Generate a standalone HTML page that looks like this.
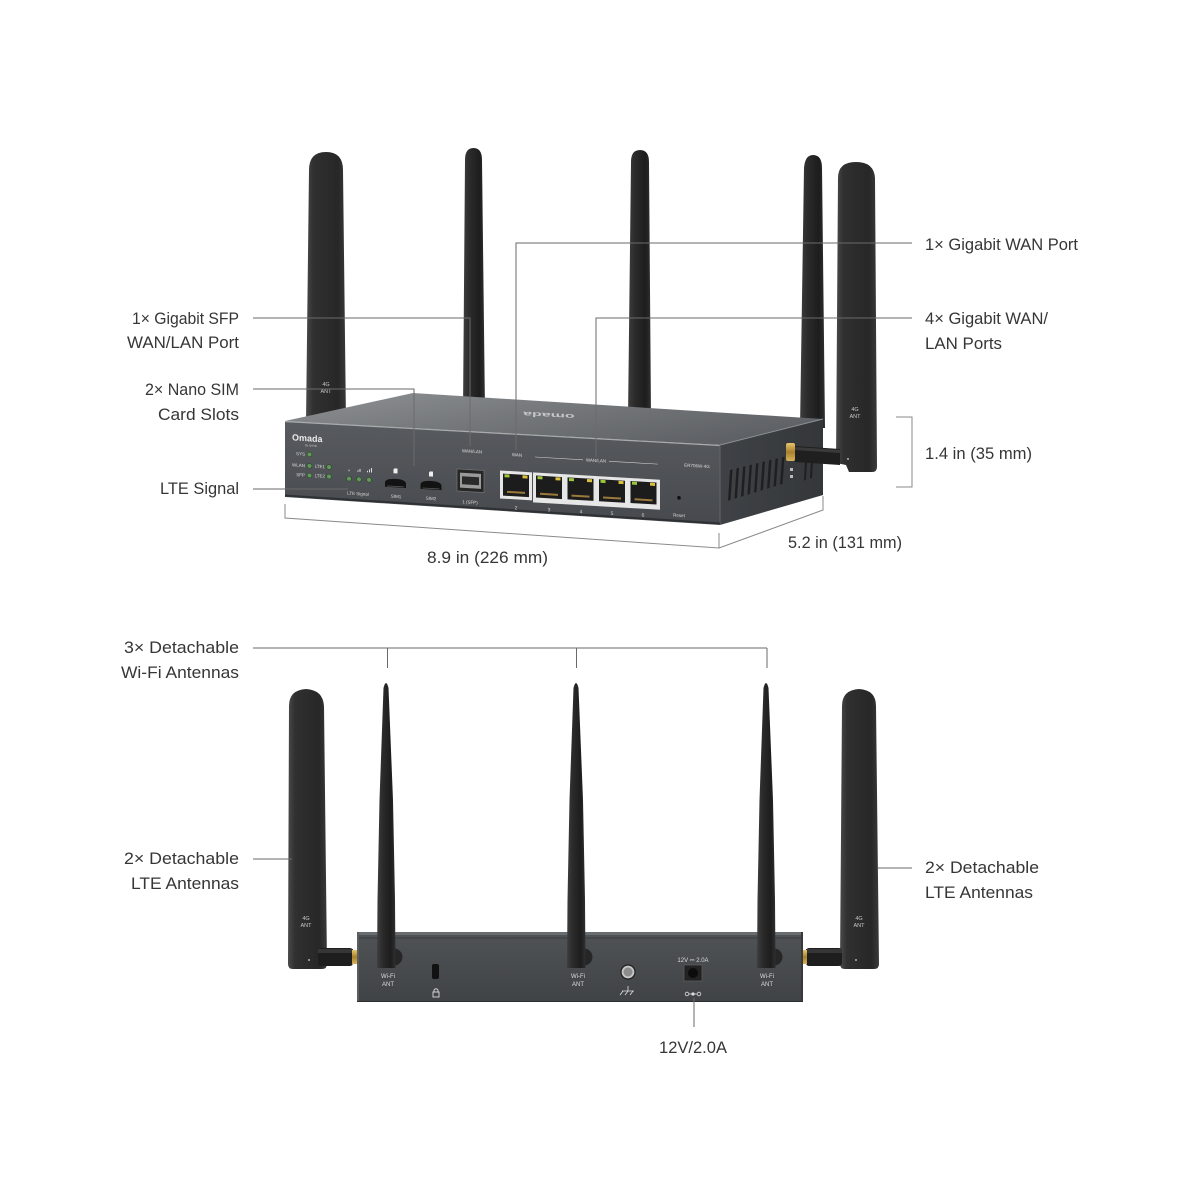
<!DOCTYPE html>
<html><head><meta charset="utf-8"><style>
html,body{margin:0;padding:0;background:#fff;}
svg{display:block}
text{font-family:"Liberation Sans",sans-serif;}
</style></head><body>
<svg width="1200" height="1200" viewBox="0 0 1200 1200" xmlns="http://www.w3.org/2000/svg">
<defs>
<linearGradient id="antG" x1="0" y1="0" x2="1" y2="0">
<stop offset="0" stop-color="#3e3e3e"/><stop offset="0.3" stop-color="#2b2b2b"/><stop offset="0.75" stop-color="#1d1d1d"/><stop offset="1" stop-color="#303030"/>
</linearGradient>
<linearGradient id="padG" x1="0" y1="0" x2="1" y2="0">
<stop offset="0" stop-color="#4a4a4a"/><stop offset="0.18" stop-color="#303030"/><stop offset="0.8" stop-color="#272727"/><stop offset="1" stop-color="#3a3a3a"/>
</linearGradient>
<linearGradient id="topG" x1="0" y1="0" x2="1" y2="0.6">
<stop offset="0" stop-color="#8f9295"/><stop offset="0.5" stop-color="#75787b"/><stop offset="1" stop-color="#5e6165"/>
</linearGradient>
<linearGradient id="frontG" x1="0" y1="0" x2="0" y2="1">
<stop offset="0" stop-color="#585b5f"/><stop offset="1" stop-color="#46494d"/>
</linearGradient>
<linearGradient id="sideG" x1="0" y1="0" x2="1" y2="0">
<stop offset="0" stop-color="#3f4246"/><stop offset="1" stop-color="#34373a"/>
</linearGradient>
<linearGradient id="rearG" x1="0" y1="0" x2="0" y2="1">
<stop offset="0" stop-color="#505356"/><stop offset="1" stop-color="#404346"/>
</linearGradient>
<linearGradient id="gold" x1="0" y1="0" x2="0" y2="1">
<stop offset="0" stop-color="#e8c66a"/><stop offset="0.5" stop-color="#a8802e"/><stop offset="1" stop-color="#d9b258"/>
</linearGradient>
</defs>

<!-- ================= TOP ROUTER ================= -->
<!-- back antennas -->
<path d="M309 170 Q309 152 326 152 Q343 152 343 170 L346 422 L306 422 Z" fill="url(#padG)"/>
<text x="326" y="386" font-size="5.5" fill="#c8c8c8" text-anchor="middle">4G</text>
<text x="326" y="393" font-size="5.5" fill="#c8c8c8" text-anchor="middle">ANT</text>
<path d="M463 412 L465 160 Q465 148 473.5 148 Q482 148 482 160 L485 412 Z" fill="url(#antG)"/>
<path d="M628 418 L631 162 Q631 150 640 150 Q649 150 649 162 L651 418 Z" fill="url(#antG)"/>
<path d="M800 428 L804 168 Q805 155 813 155 Q822 155 822 168 L825 428 Z" fill="url(#antG)"/>

<!-- body -->
<polygon points="285,421 413,393 823,419 720,445" fill="url(#topG)"/>
<text x="0" y="0" font-size="16" font-weight="bold" fill="#c4c6c8" text-anchor="middle" transform="translate(549,413) rotate(183) scale(1,0.42)">omada</text>
<polygon points="720,445 823,419 823,495 720,525" fill="url(#sideG)"/>
<polygon points="285,421 720,445 720,525 285,497" fill="url(#frontG)"/>
<line x1="285" y1="421.5" x2="720" y2="445.5" stroke="#a9acaf" stroke-width="1.2"/>
<line x1="720" y1="445" x2="823" y2="419" stroke="#8d9093" stroke-width="1"/>
<line x1="720" y1="445" x2="720" y2="525" stroke="#62656a" stroke-width="1"/>
<line x1="285" y1="495.5" x2="720" y2="523.5" stroke="#2e3134" stroke-width="2"/>

<!-- side vents -->
<g fill="#1d1f21">
<polygon points="730,470 732.5,469.4 730.5,500 728,500.6"/>
<polygon points="736.5,468.4 739,467.8 737,498 734.5,498.6"/>
<polygon points="743,466.8 745.5,466.2 743.5,496 741,496.6"/>
<polygon points="749.5,465.2 752,464.6 750,494 747.5,494.6"/>
<polygon points="756,463.6 758.5,463 756.5,492 754,492.6"/>
<polygon points="762.5,462 765,461.4 763,490 760.5,490.6"/>
<polygon points="769,460.4 771.5,459.8 769.5,488 767,488.6"/>
<polygon points="775.5,458.8 778,458.2 776,486 773.5,486.6"/>
<polygon points="782,457.2 784.5,456.6 782.5,484 780,484.6"/>
<polygon points="805,462 807,461.5 806,480 804,480.5"/>
<polygon points="811,460.5 813,460 812,478 810,478.5"/>
</g>
<rect x="790" y="468" width="3" height="3" fill="#bbb"/>
<rect x="790" y="475" width="3" height="3" fill="#bbb"/>

<!-- right LTE antenna + connector -->
<path d="M838 178 Q838 162 856 162 Q874 162 875 178 L877 467 Q877 472 872 472 L849 472 L846 465 L836 463 Z" fill="url(#padG)"/>
<text x="855" y="411" font-size="5.5" fill="#c8c8c8" text-anchor="middle">4G</text>
<text x="855" y="418" font-size="5.5" fill="#c8c8c8" text-anchor="middle">ANT</text>
<circle cx="848" cy="459" r="0.9" fill="#ddd"/>
<polygon points="795,446 840,449 840,465 795,462" fill="#1f1f1f"/>
<polygon points="795,447 840,450 840,453 795,450" fill="#3a3a3a"/>
<rect x="786" y="443" width="9" height="18" rx="2" fill="url(#gold)"/>

<!-- front face details -->
<g transform="matrix(1,0.058,0,1,285,421)">
<text x="7" y="19" font-size="9" font-weight="bold" fill="#eaeaea">Omada</text>
<text x="20" y="24" font-size="3" fill="#ccc">by tp-link</text>
<g font-size="4.5" fill="#dcdcdc" text-anchor="end">
<text x="20" y="33.5">SYS</text>
<text x="20" y="45">WLAN</text>
<text x="20" y="54.5">SFP</text>
<text x="40" y="45">LTE1</text>
<text x="40" y="54.5">LTE2</text>
</g>
<g fill="#5f9a57" stroke="#2d4a2a" stroke-width="0.6">
<circle cx="24.5" cy="32" r="2.4"/><circle cx="24.5" cy="43.5" r="2.4"/><circle cx="24.5" cy="53" r="2.4"/>
<circle cx="44" cy="43.5" r="2.4"/><circle cx="44" cy="53" r="2.4"/>
<circle cx="64" cy="54" r="2.4"/><circle cx="74" cy="54" r="2.4"/><circle cx="84" cy="54" r="2.4"/>
</g>
<g fill="#ddd">
<rect x="63.5" y="45" width="1" height="1.5"/>
<rect x="72.5" y="45" width="1" height="1.5"/><rect x="74.5" y="43.5" width="1" height="3"/>
<rect x="82" y="45" width="1" height="1.5"/><rect x="84" y="43.5" width="1" height="3"/><rect x="86" y="42" width="1" height="4.5"/>
</g>
<text x="73" y="70" font-size="4.5" fill="#dcdcdc" text-anchor="middle">LTE Signal</text>
<!-- SIM slots -->
<path d="M100 60 L100 56 Q100 51.5 110.5 51.5 Q121 51.5 121 56 L121 60 Z" fill="#121212"/>
<path d="M102 59 L119 59" stroke="#555" stroke-width="0.8"/>
<path d="M135.5 60 L135.5 56 Q135.5 51.5 146 51.5 Q156.5 51.5 156.5 56 L156.5 60 Z" fill="#121212"/>
<path d="M137.5 59 L154.5 59" stroke="#555" stroke-width="0.8"/>
<path d="M109.5 41 L112.5 41 L112.5 46 L108.5 46 L108.5 42 Z" fill="#eee"/>
<path d="M145 42 L148 42 L148 47 L144 47 L144 43 Z" fill="#eee"/>
<text x="111" y="70.5" font-size="4.5" fill="#dcdcdc" text-anchor="middle">SIM1</text>
<text x="146" y="70.5" font-size="4.5" fill="#dcdcdc" text-anchor="middle">SIM2</text>
<!-- SFP -->
<rect x="172" y="38" width="27" height="22" fill="#262626" stroke="#6f6f6f" stroke-width="0.8"/>
<rect x="175" y="41.5" width="21" height="15" fill="#9a9a9a"/>
<rect x="177" y="45" width="17" height="8" fill="#2a2a2a"/>
<text x="185" y="72" font-size="4.5" fill="#dcdcdc" text-anchor="middle">1 (SFP)</text>
<text x="187" y="21" font-size="4.5" fill="#dcdcdc" text-anchor="middle">WAN/LAN</text>
<text x="232" y="22" font-size="4.5" fill="#dcdcdc" text-anchor="middle">WAN</text>
<!-- port 2 -->
<rect x="215" y="37" width="32" height="28" fill="#e6e6e6"/>
<rect x="218" y="40" width="26" height="22" fill="#1c1c1c"/>
<rect x="219.5" y="40.5" width="5" height="3" fill="#9bc63a"/>
<rect x="237.5" y="40.5" width="5" height="3" fill="#d9c23a"/>
<rect x="222" y="57" width="18" height="2" fill="#9a7a3c"/>
<!-- ports 3-6 -->
<rect x="248" y="37" width="127" height="30" fill="#e6e6e6"/>
<g>
<rect x="251" y="40" width="26" height="22" fill="#1c1c1c"/>
<rect x="282.5" y="40" width="26" height="22" fill="#1c1c1c"/>
<rect x="314" y="40" width="26" height="22" fill="#1c1c1c"/>
<rect x="345.5" y="40" width="26" height="22" fill="#1c1c1c"/>
</g>
<g fill="#9bc63a">
<rect x="252.5" y="40.5" width="5" height="3"/><rect x="284" y="40.5" width="5" height="3"/><rect x="315.5" y="40.5" width="5" height="3"/><rect x="347" y="40.5" width="5" height="3"/>
</g>
<g fill="#d9c23a">
<rect x="270.5" y="40.5" width="5" height="3"/><rect x="302" y="40.5" width="5" height="3"/><rect x="333.5" y="40.5" width="5" height="3"/><rect x="365" y="40.5" width="5" height="3"/>
</g>
<g fill="#9a7a3c">
<rect x="255" y="57" width="18" height="2"/><rect x="286.5" y="57" width="18" height="2"/><rect x="318" y="57" width="18" height="2"/><rect x="349.5" y="57" width="18" height="2"/>
</g>
<g fill="#e6e6e6">
<rect x="277.5" y="56" width="4.5" height="8"/><rect x="309" y="56" width="4.5" height="8"/><rect x="340.5" y="56" width="4.5" height="8"/>
</g>
<g font-size="5" fill="#d0d0d0" text-anchor="middle">
<text x="231" y="75">2</text><text x="264" y="75">3</text><text x="296" y="75">4</text><text x="327" y="75">5</text><text x="358" y="75">6</text>
</g>
<text x="311" y="23" font-size="4.5" fill="#dcdcdc" text-anchor="middle">WAN/LAN</text>
<line x1="250" y1="21.5" x2="298" y2="21.5" stroke="#cfcfcf" stroke-width="0.6"/>
<line x1="324" y1="21.5" x2="373" y2="21.5" stroke="#cfcfcf" stroke-width="0.6"/>
<text x="412" y="22.5" font-size="4.5" fill="#dcdcdc" text-anchor="middle">ER706W-4G</text>
<circle cx="394" cy="54" r="1.8" fill="#111"/>
<text x="394" y="73" font-size="4.5" fill="#dcdcdc" text-anchor="middle">Reset</text>
</g>

<!-- leader lines top -->
<g stroke="#6a6a6a" stroke-width="1" fill="none">
<polyline points="253,318 470,318 470,446"/>
<polyline points="253,389 414,389 414,466"/>
<line x1="253" y1="489" x2="348" y2="489"/>
<polyline points="912,243 516,243 516,450"/>
<polyline points="912,318 596,318 596,457"/>
</g>
<!-- dimension lines -->
<g stroke="#8a8a8a" stroke-width="1" fill="none">
<polyline points="285,504 285,518 719,548 719,533"/>
<polyline points="719,548 823,510 823,496"/>
<polyline points="896,417 912,417 912,487 896,487"/>
</g>

<!-- ================= BOTTOM ROUTER ================= -->
<!-- left LTE paddle -->
<path d="M289 706 Q289 690 306 689 Q323 690 324 706 L327 964 Q327 969 322 969 L293 969 Q288 969 288 964 Z" fill="url(#padG)"/>
<text x="306" y="920" font-size="5.5" fill="#c8c8c8" text-anchor="middle">4G</text>
<text x="306" y="927" font-size="5.5" fill="#c8c8c8" text-anchor="middle">ANT</text>
<circle cx="309" cy="960" r="0.9" fill="#ddd"/>
<rect x="318" y="948" width="35" height="18" rx="3" fill="#1e1e1e"/>
<rect x="318" y="949" width="35" height="4" fill="#363636"/>
<rect x="352" y="950" width="6" height="14" fill="url(#gold)"/>
<!-- right LTE paddle -->
<path d="M842 706 Q842 690 859 689 Q876 690 876 706 L879 964 Q879 969 874 969 L845 969 Q840 969 840 964 Z" fill="url(#padG)"/>
<text x="859" y="920" font-size="5.5" fill="#c8c8c8" text-anchor="middle">4G</text>
<text x="859" y="927" font-size="5.5" fill="#c8c8c8" text-anchor="middle">ANT</text>
<circle cx="856" cy="960" r="0.9" fill="#ddd"/>
<rect x="806" y="948" width="36" height="18" rx="3" fill="#1e1e1e"/>
<rect x="806" y="949" width="36" height="4" fill="#363636"/>
<rect x="801" y="950" width="6" height="14" fill="url(#gold)"/>

<!-- body -->
<rect x="357" y="932" width="446" height="70" fill="url(#rearG)"/>
<rect x="357" y="932" width="446" height="3" fill="#6a6d70"/>
<line x1="357" y1="938" x2="803" y2="938" stroke="#3a3d40" stroke-width="1"/>
<rect x="357" y="932" width="2" height="70" fill="#5b5e61"/>
<rect x="801" y="932" width="2" height="70" fill="#37393c"/>
<line x1="357" y1="1001.5" x2="803" y2="1001.5" stroke="#2c2e30" stroke-width="1"/>

<!-- antenna knuckles -->
<circle cx="394" cy="957" r="8.5" fill="#262626"/>
<circle cx="584" cy="957" r="8.5" fill="#262626"/>
<circle cx="774" cy="957" r="8.5" fill="#262626"/>
<!-- wifi antennas -->
<path d="M383.5 688 Q386 678 388.5 688 L393 800 L395 900 L395.5 968 L377 968 L377.5 900 L379.5 800 Z" fill="url(#antG)"/>
<path d="M573.5 688 Q576 678 578.5 688 L583 800 L585 900 L585.5 968 L567 968 L567.5 900 L569.5 800 Z" fill="url(#antG)"/>
<path d="M763.5 688 Q766 678 768.5 688 L773 800 L775 900 L775.5 968 L757 968 L757.5 900 L759.5 800 Z" fill="url(#antG)"/>
<g font-size="6" fill="#dcdcdc" text-anchor="middle">
<text x="388" y="978">Wi-Fi</text><text x="388" y="986">ANT</text>
<text x="578" y="978">Wi-Fi</text><text x="578" y="986">ANT</text>
<text x="767" y="978">Wi-Fi</text><text x="767" y="986">ANT</text>
</g>
<!-- lock -->
<rect x="432" y="964" width="7" height="15" rx="2" fill="#111"/>
<rect x="433" y="992" width="6" height="5" fill="none" stroke="#ddd" stroke-width="0.9"/>
<path d="M434 992 L434 990 Q436 987.5 438 990 L438 992" fill="none" stroke="#ddd" stroke-width="0.9"/>
<!-- ground -->
<circle cx="628" cy="972" r="7" fill="#c6c6c6" stroke="#1e1e1e" stroke-width="1.2"/>
<circle cx="628" cy="972" r="4.5" fill="#8c8c8c"/>
<path d="M628 986 L628 991 M622 991 L634 991 M623 991 L620 995 M628 991 L625 995 M633 991 L630 995" stroke="#ddd" stroke-width="0.8" fill="none"/>
<!-- power -->
<text x="693" y="962" font-size="6" fill="#dcdcdc" text-anchor="middle">12V ⎓ 2.0A</text>
<rect x="684" y="965" width="18" height="16" fill="#222" stroke="#5a5a5a" stroke-width="0.8"/>
<circle cx="693" cy="973" r="5" fill="#0c0c0c"/>
<g stroke="#ddd" stroke-width="0.8" fill="none">
<circle cx="687" cy="994" r="1.8"/><circle cx="699" cy="994" r="1.8"/>
<line x1="689" y1="994" x2="697" y2="994"/>
</g>
<circle cx="693" cy="994" r="1.6" fill="#ddd"/>

<!-- bottom leader lines -->
<g stroke="#6a6a6a" stroke-width="1" fill="none">
<line x1="253" y1="648" x2="767" y2="648"/>
<line x1="387.5" y1="648" x2="387.5" y2="668"/>
<line x1="576.5" y1="648" x2="576.5" y2="668"/>
<line x1="767" y1="648" x2="767" y2="668"/>
<line x1="253" y1="859" x2="292" y2="859"/>
<line x1="878" y1="868" x2="912" y2="868"/>
<line x1="694" y1="998" x2="694" y2="1027"/>
</g>

<!-- ================= LABELS ================= -->
<g font-size="17" fill="#363636">
<text x="132" y="324" textLength="107" lengthAdjust="spacingAndGlyphs">1× Gigabit SFP</text>
<text x="127" y="348" textLength="112" lengthAdjust="spacingAndGlyphs">WAN/LAN Port</text>
<text x="145" y="395" textLength="94" lengthAdjust="spacingAndGlyphs">2× Nano SIM</text>
<text x="158" y="420" textLength="81" lengthAdjust="spacingAndGlyphs">Card Slots</text>
<text x="160" y="494" textLength="79" lengthAdjust="spacingAndGlyphs">LTE Signal</text>
<text x="925" y="250" textLength="153" lengthAdjust="spacingAndGlyphs">1× Gigabit WAN Port</text>
<text x="925" y="324" textLength="123" lengthAdjust="spacingAndGlyphs">4× Gigabit WAN/</text>
<text x="925" y="349" textLength="77" lengthAdjust="spacingAndGlyphs">LAN Ports</text>
<text x="925" y="459" textLength="107" lengthAdjust="spacingAndGlyphs">1.4 in (35 mm)</text>
<text x="788" y="548" textLength="114" lengthAdjust="spacingAndGlyphs">5.2 in (131 mm)</text>
<text x="427" y="563" textLength="121" lengthAdjust="spacingAndGlyphs">8.9 in (226 mm)</text>
<text x="124" y="653" textLength="115" lengthAdjust="spacingAndGlyphs">3× Detachable</text>
<text x="121" y="678" textLength="118" lengthAdjust="spacingAndGlyphs">Wi-Fi Antennas</text>
<text x="124" y="864" textLength="115" lengthAdjust="spacingAndGlyphs">2× Detachable</text>
<text x="131" y="889" textLength="108" lengthAdjust="spacingAndGlyphs">LTE Antennas</text>
<text x="925" y="873" textLength="114" lengthAdjust="spacingAndGlyphs">2× Detachable</text>
<text x="925" y="898" textLength="108" lengthAdjust="spacingAndGlyphs">LTE Antennas</text>
<text x="659" y="1053" textLength="68" lengthAdjust="spacingAndGlyphs">12V/2.0A</text>
</g>
</svg>
</body></html>
